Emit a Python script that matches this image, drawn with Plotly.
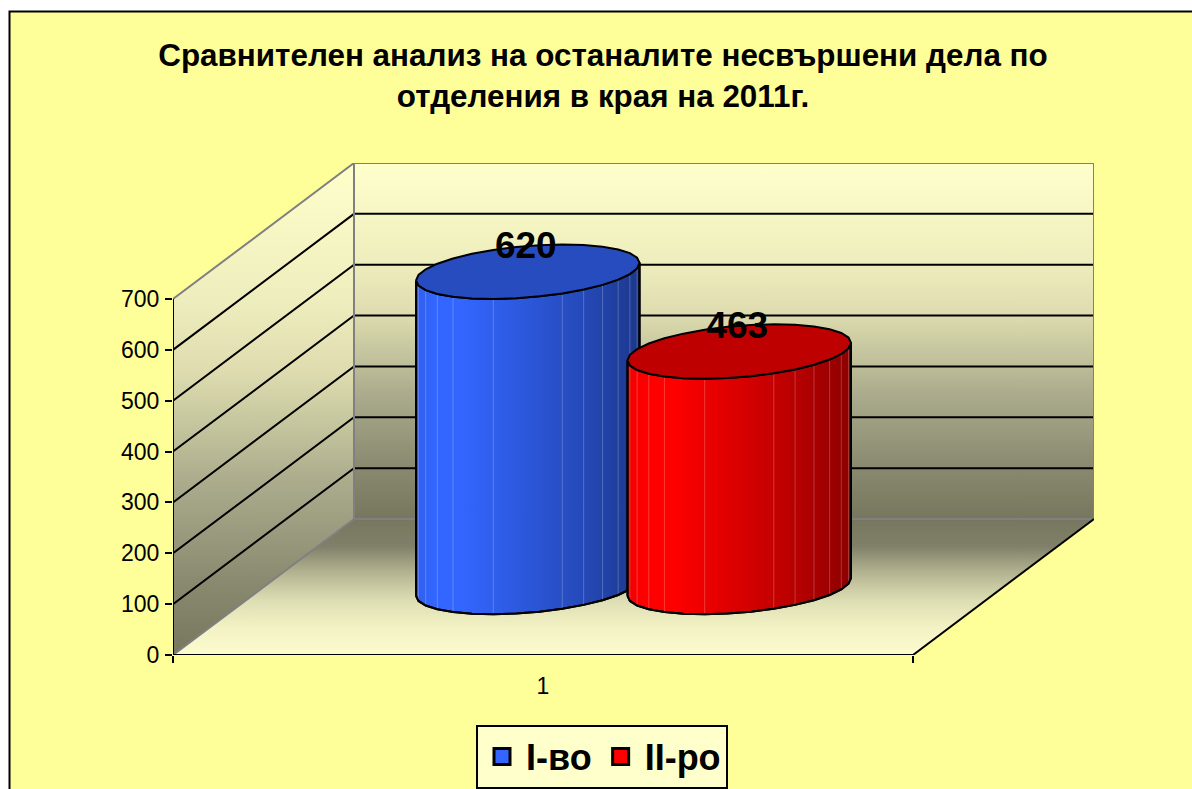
import numpy as np
import plotly.graph_objects as go

TITLE = "Сравнителен анализ на останалите несвършени дела по<br>отделения в края на 2011г."
CATEGORIES = ["1"]
SERIES_NAMES = ["I-во", "II-ро"]
SERIES_VALUES = [620, 463]
SERIES_COLORS = [(0x33, 0x66, 0xFF), (0xFF, 0x00, 0x00)]
Y_TICKS = [0, 100, 200, 300, 400, 500, 600, 700]

FONT = "Liberation Sans"
W, H = 1192, 789
LEFT, BOTTOM_PX = 173, 655
UNIT_X = 740.0          # px per category
UNIT_Y = 356.0 / 700.0  # px per value unit
DEPTH_X = 181.0 / UNIT_X
DEPTH_Y = 136.0 / UNIT_Y
GAP = 1.5
Y_MAX = 700
WALL = [[0, "#FFFFCC"], [0.28, "#EEEDBD"], [0.42, "#DFDDB0"], [0.5, "#CCCCA3"],
        [0.66, "#A9A98B"], [0.85, "#8A8A70"], [1, "#77775F"]]
FLOOR = [[0, "#77775F"], [0.2, "#80806A"], [0.38, "#B0B08E"], [0.6, "#DEDEB4"],
         [0.8, "#F2F2C4"], [1, "#FCFCCE"]]
SHADE = [(0, 0.93), (0.08, 1.0), (0.2, 1.0), (0.5, 0.85), (0.75, 0.72), (1, 0.55)]
NSIDES = 30

x_rng = [0, 1 + DEPTH_X]
y_rng = [0, Y_MAX + DEPTH_Y]
fig = go.Figure()


def poly(xs, ys, **kw):
    kw.setdefault("showlegend", False)
    kw.setdefault("hoverinfo", "skip")
    kw.setdefault("mode", "lines")
    kw.setdefault("cliponaxis", False)
    fig.add_trace(go.Scatter(x=xs, y=ys, **kw))


def vgrad(scale, top, bottom):
    return dict(type="vertical", colorscale=scale, start=top, stop=bottom)


NOLINE = dict(width=0)
GRAY = dict(color="#808080", width=2)
BLACK = dict(color="#000000", width=2)
wall_top = Y_MAX + DEPTH_Y

# back wall, side wall, floor
poly([DEPTH_X, 1 + DEPTH_X, 1 + DEPTH_X, DEPTH_X, DEPTH_X],
     [DEPTH_Y, DEPTH_Y, wall_top, wall_top, DEPTH_Y], fill="toself", line=NOLINE,
     fillgradient=vgrad(WALL, wall_top, DEPTH_Y))
poly([0, DEPTH_X, DEPTH_X, 0, 0], [0, DEPTH_Y, wall_top, Y_MAX, 0], fill="toself", line=NOLINE,
     fillgradient=vgrad(WALL, wall_top, 0))
poly([0, 1, 1 + DEPTH_X, DEPTH_X, 0], [0, 0, DEPTH_Y, DEPTH_Y, 0], fill="toself", line=NOLINE,
     fillgradient=vgrad(FLOOR, DEPTH_Y, 0))

# gridlines
for v in Y_TICKS[1:-1]:
    poly([0, DEPTH_X, 1 + DEPTH_X], [v, v + DEPTH_Y, v + DEPTH_Y], line=BLACK)
# wall borders
poly([0, DEPTH_X, 1 + DEPTH_X, 1 + DEPTH_X, DEPTH_X, DEPTH_X],
     [Y_MAX, wall_top, wall_top, DEPTH_Y, DEPTH_Y, wall_top], line=GRAY)
poly([0, DEPTH_X], [0, DEPTH_Y], line=GRAY)
# floor edge and axes
poly([1, 1 + DEPTH_X], [0, DEPTH_Y], line=BLACK)
poly([0, 1], [0, 0], line=BLACK)
poly([0, 0], [0, Y_MAX], line=BLACK)

# cylinders
n = len(SERIES_VALUES)
bar_w = 1.0 / (n + GAP)
u = bar_w / 2
vx = DEPTH_X * 0.2
vy = DEPTH_Y * 0.2
t_sil = np.arctan2(vx * UNIT_X, u * UNIT_X)


def center_x(i):
    return bar_w * (GAP / 2 + i + 0.5) + DEPTH_X / 2


def ring(cx, cy, ts):
    return cx + u * np.cos(ts) + vx * np.sin(ts), cy + vy * np.sin(ts)


def rgb(c, f=1.0):
    return "rgb(%d,%d,%d)" % tuple(int(round(p * f)) for p in c)


for i, (val, col) in enumerate(zip(SERIES_VALUES, SERIES_COLORS)):
    cx = center_x(i)
    cy_b = DEPTH_Y / 2
    cy_t = val + DEPTH_Y / 2
    half = np.hypot(u * UNIT_X, vx * UNIT_X) / UNIT_X

    ts = np.linspace(np.pi + t_sil, 2 * np.pi + t_sil, NSIDES // 2 + 1)
    xb, yb = ring(cx, cy_b, ts)
    xt, yt = ring(cx, cy_t, ts)
    sx = np.concatenate([xb, xt[::-1], xb[:1]])
    sy = np.concatenate([yb, yt[::-1], yb[:1]])
    scale = [[p, rgb(col, f)] for p, f in SHADE]
    poly(sx.tolist(), sy.tolist(), fill="toself", line=BLACK,
         fillgradient=dict(type="horizontal", colorscale=scale, start=cx - half, stop=cx + half))
    for j in range(1, NSIDES // 2):
        if 0.2 < (xb[j] - (cx - half)) / (2 * half) < 0.6 and j % 3:
            continue
        poly([xb[j], xt[j]], [yb[j], yt[j]], line=dict(color="rgba(255,255,255,0.22)", width=1))
    poly(xb.tolist(), yb.tolist(), line=BLACK)
    poly([xb[0], xt[0]], [yb[0], yt[0]], line=BLACK)
    poly([xb[-1], xt[-1]], [yb[-1], yt[-1]], line=BLACK)
    ta = np.linspace(np.pi + t_sil, 3 * np.pi + t_sil, NSIDES + 1)
    xa, ya = ring(cx, cy_t, ta)
    poly(xa.tolist(), ya.tolist(), fill="toself", fillcolor=rgb(col, 0.75), line=BLACK)

# value labels
for i, val in enumerate(SERIES_VALUES):
    fig.add_trace(go.Scatter(
        x=[center_x(i) - 2 / UNIT_X], y=[val + DEPTH_Y / 2 + 23 / UNIT_Y], mode="text", text=[str(val)],
        textposition="middle center", showlegend=False, hoverinfo="skip", cliponaxis=False,
        textfont=dict(family=FONT, size=37, color="#000000", weight="bold")))

# legend entries
for name, col in zip(SERIES_NAMES, SERIES_COLORS):
    fig.add_trace(go.Scatter(
        x=[None], y=[None], mode="markers", name=name, hoverinfo="skip",
        marker=dict(symbol="square", size=16, color=rgb(col), line=dict(color="#000000", width=3))))

px_x = lambda p: (p - LEFT) / (x_rng[1] * UNIT_X)
px_y = lambda p: (BOTTOM_PX - p) / (y_rng[1] * UNIT_Y)

fig.update_layout(
    width=W, height=H, autosize=False,
    margin=dict(l=LEFT, r=W - LEFT - x_rng[1] * UNIT_X, t=BOTTOM_PX - y_rng[1] * UNIT_Y, b=H - BOTTOM_PX,
                pad=0, autoexpand=False),
    paper_bgcolor="#FFFFFF", plot_bgcolor="rgba(0,0,0,0)",
    font=dict(family=FONT, color="#000000"),
    title=dict(text=TITLE, x=603 / W, xanchor="center", y=1 - 66 / H, yanchor="top", yref="container",
               font=dict(family=FONT, size=31.4, color="#000000", weight="bold")),
    xaxis=dict(range=x_rng, showgrid=False, zeroline=False, showline=False,
               tickmode="array", tickvals=[0.5], ticktext=CATEGORIES, ticks="",
               tickfont=dict(family=FONT, size=23), ticklabelstandoff=15,
               minor=dict(tickmode="array", tickvals=[0, 1], ticks="outside", ticklen=7, tickwidth=2, tickcolor="#000000")),
    yaxis=dict(range=y_rng, showgrid=False, zeroline=False, showline=False,
               tickmode="array", tickvals=Y_TICKS, ticks="outside", ticklen=7, tickwidth=2,
               tickcolor="#000000", tickfont=dict(family=FONT, size=23), ticklabelstandoff=1),
    showlegend=True,
    legend=dict(orientation="h", x=px_x(602), xanchor="center", y=px_y(756.5), yanchor="middle", itemwidth=38,
                bgcolor="#FFFFCC", bordercolor="#000000", borderwidth=2,
                font=dict(family=FONT, size=36, color="#000000", weight="bold")),
    shapes=[dict(type="rect", layer="below", xref="paper", yref="paper",
                 x0=px_x(9.5), x1=px_x(W + 20), y0=px_y(H + 20), y1=px_y(11.5),
                 fillcolor="#FFFF99", line=dict(color="#000000", width=2))],
)

fig.write_html("out.html", config=dict(displayModeBar=False),
               post_script="document.body.style.margin='0';document.body.style.overflow='hidden';")
